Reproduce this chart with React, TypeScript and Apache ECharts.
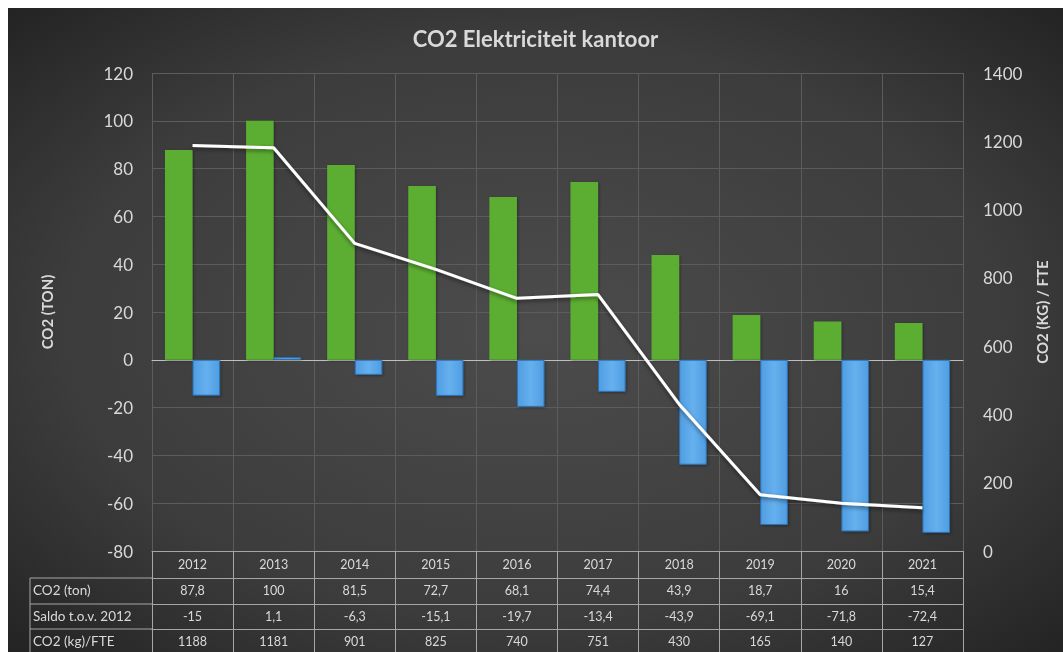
import React, { useEffect, useRef } from "react";
import * as echarts from "echarts";

const years = ["2012", "2013", "2014", "2015", "2016", "2017", "2018", "2019", "2020", "2021"];
const co2Ton = [87.8, 100, 81.5, 72.7, 68.1, 74.4, 43.9, 18.7, 16, 15.4];
const saldo = [-15, 1.1, -6.3, -15.1, -19.7, -13.4, -43.9, -69.1, -71.8, -72.4];
const co2PerFte = [1188, 1181, 901, 825, 740, 751, 430, 165, 140, 127];
const rowNames = ["CO2 (ton)", "Saldo t.o.v. 2012", "CO2 (kg)/FTE"];
const titleText = "CO2 Elektriciteit kantoor";
const leftAxisName = "CO2 (TON)";
const rightAxisName = "CO2 (KG) / FTE";

const W = 1055;
const H = 644;
const GRID = { left: 144, right: 100, top: 65, bottom: 101 };
const ROW_H = [27, 26, 25, 25];
const FONT = "Lato, 'Open Sans', sans-serif";
const TXT = "#d9d9d9";
const BORDER = "#a6a6a6";

const fmt = (v: number) => String(v).replace(".", ",");

export default function App() {
  const ref = useRef<HTMLDivElement>(null);
  useEffect(() => {
    if (!ref.current) return;
    const chart = echarts.init(ref.current, null, { renderer: "svg" });
    const plotBottom = H - GRID.bottom;
    const offsets = [0, ROW_H[0], ROW_H[0] + ROW_H[1], ROW_H[0] + ROW_H[1] + ROW_H[2]];
    const tableAxis = (data: string[], idx: number) => ({
      type: "category",
      data,
      gridIndex: 0,
      position: "bottom",
      offset: offsets[idx],
      boundaryGap: true,
      axisLine: { show: true, onZero: false, lineStyle: { color: BORDER, width: 1 } },
      axisTick: { show: true, inside: false, alignWithLabel: false, interval: 0, length: ROW_H[idx], lineStyle: { color: BORDER, width: 1 } },
      axisLabel: {
        show: true,
        interval: 0,
        margin: Math.round((ROW_H[idx] - 14) / 2),
        color: TXT,
        fontSize: 12.5,
        fontFamily: FONT,
      },
      splitLine: { show: false },
    });

    const leftX = 22;
    const graphics: any[] = [];
    let y = plotBottom + ROW_H[0];
    graphics.push({ type: "line", shape: { x1: leftX, y1: y, x2: GRID.left, y2: y }, style: { stroke: BORDER, lineWidth: 1 } });
    for (let i = 0; i < rowNames.length; i++) {
      const h = ROW_H[i + 1];
      graphics.push({
        type: "text",
        left: leftX + 3,
        top: y + h / 2 - 8,
        style: { text: rowNames[i], fill: TXT, fontSize: 13.5, fontFamily: FONT },
      });
      y += h;
      graphics.push({ type: "line", shape: { x1: leftX, y1: y, x2: GRID.left, y2: y }, style: { stroke: BORDER, lineWidth: 1 } });
    }
    graphics.push({ type: "line", shape: { x1: leftX, y1: plotBottom + ROW_H[0], x2: leftX, y2: y }, style: { stroke: BORDER, lineWidth: 1 } });

    chart.setOption({
      animation: false,
      backgroundColor: {
        type: "radial",
        x: 0.5,
        y: 0.5,
        r: 0.75,
        colorStops: [
          { offset: 0, color: "#4c4c4c" },
          { offset: 0.6, color: "#3c3c3c" },
          { offset: 1, color: "#1f1f1f" },
        ],
      },
      title: {
        text: titleText,
        left: "center",
        top: 14,
        textStyle: { color: TXT, fontSize: 22, fontWeight: "bold", fontFamily: FONT },
      },
      textStyle: { fontFamily: FONT },
      grid: { ...GRID, containLabel: false },
      graphic: graphics,
      xAxis: [
        {
          type: "category",
          data: years,
          gridIndex: 0,
          position: "bottom",
          boundaryGap: true,
          axisLine: { show: true, onZero: true, lineStyle: { color: "#bfbfbf", width: 1 } },
          axisTick: { show: false },
          axisLabel: { show: false },
          splitLine: { show: true, interval: 0, lineStyle: { color: "#5c5c5c", width: 1 } },
        },
        tableAxis(years, 0),
        tableAxis(co2Ton.map(fmt), 1),
        tableAxis(saldo.map(fmt), 2),
        tableAxis(co2PerFte.map(fmt), 3),
      ],
      yAxis: [
        {
          type: "value",
          min: -80,
          max: 120,
          interval: 20,
          position: "left",
          axisLine: { show: false },
          axisTick: { show: false },
          axisLabel: { color: TXT, fontSize: 17, margin: 19, fontFamily: FONT, formatter: (v: number) => String(v) },
          splitLine: { show: true, lineStyle: { color: "#5c5c5c", width: 1 } },
          name: leftAxisName,
          nameLocation: "middle",
          nameRotate: 90,
          nameGap: 98,
          nameTextStyle: { color: TXT, fontSize: 15, fontWeight: "bold", fontFamily: FONT },
        },
        {
          type: "value",
          min: 0,
          max: 1400,
          interval: 200,
          position: "right",
          axisLine: { show: false },
          axisTick: { show: false },
          axisLabel: { color: TXT, fontSize: 17, margin: 20, fontFamily: FONT, formatter: (v: number) => String(v) },
          splitLine: { show: false },
          name: rightAxisName,
          nameLocation: "middle",
          nameRotate: 90,
          nameGap: 71,
          nameTextStyle: { color: TXT, fontSize: 15, fontWeight: "bold", fontFamily: FONT },
        },
      ],
      series: [
        {
          name: "CO2 (ton)",
          type: "bar",
          xAxisIndex: 0,
          yAxisIndex: 0,
          data: co2Ton,
          barGap: "0%",
          barCategoryGap: "32%",
          itemStyle: {
            color: "#5bae32",
            shadowColor: "rgba(0,0,0,0.35)",
            shadowBlur: 3,
            shadowOffsetX: 1,
            shadowOffsetY: 1,
          },
        },
        {
          name: "Saldo t.o.v. 2012",
          type: "bar",
          xAxisIndex: 0,
          yAxisIndex: 0,
          data: saldo,
          barGap: "0%",
          barCategoryGap: "32%",
          itemStyle: {
            color: {
              type: "linear",
              x: 0,
              y: 0,
              x2: 1,
              y2: 0,
              colorStops: [
                { offset: 0, color: "#4f9de2" },
                { offset: 0.5, color: "#66b0ee" },
                { offset: 1, color: "#4f9de2" },
              ],
            },
            borderColor: "#2e73b5",
            borderWidth: 1,
            shadowColor: "rgba(0,0,0,0.35)",
            shadowBlur: 3,
            shadowOffsetX: 1,
            shadowOffsetY: 1,
          },
        },
        {
          name: "CO2 (kg)/FTE",
          type: "line",
          xAxisIndex: 0,
          yAxisIndex: 1,
          data: co2PerFte,
          symbol: "none",
          lineStyle: {
            color: "#ffffff",
            width: 3,
            shadowColor: "rgba(0,0,0,0.5)",
            shadowBlur: 4,
            shadowOffsetY: 2,
          },
          z: 5,
        },
      ],
    });
    return () => chart.dispose();
  }, []);
  return (
    <div
      ref={ref}
      style={{ position: "fixed", left: 8, top: 8, width: W, height: H }}
    />
  );
}
